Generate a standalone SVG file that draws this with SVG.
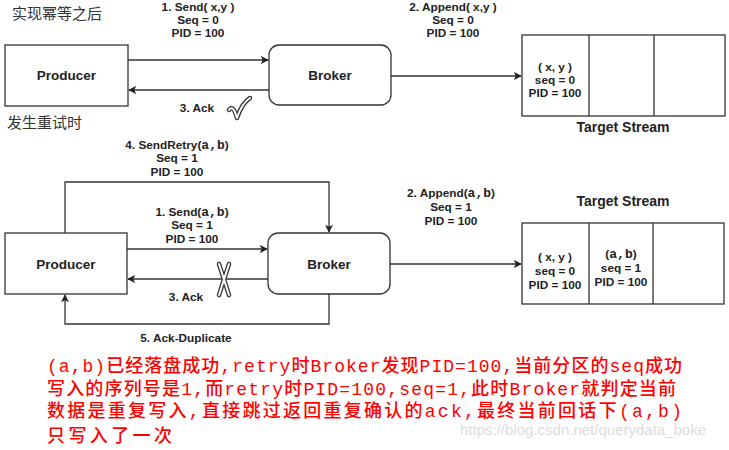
<svg xmlns="http://www.w3.org/2000/svg" width="729" height="450" viewBox="0 0 729 450">
<defs>
<marker id="ah" viewBox="0 0 10 10" refX="9" refY="5" markerWidth="8" markerHeight="8" markerUnits="userSpaceOnUse" orient="auto">
<path d="M0,0 L10,5 L0,10 L2.5,5 Z" fill="#222"/>
</marker>
<style>
.box{fill:#fff;stroke:#333;stroke-width:1.3}
.ln{fill:none;stroke:#333;stroke-width:1.3}
.arr{fill:none;stroke:#333;stroke-width:1.3;marker-end:url(#ah)}
.lbl{font-family:"Liberation Sans",Arial,sans-serif;font-size:11.8px;font-weight:bold;fill:#222;text-anchor:middle}
.node{font-family:"Liberation Sans",Arial,sans-serif;font-size:13.5px;font-weight:bold;fill:#222;text-anchor:middle}
.ts{font-family:"Liberation Sans",Arial,sans-serif;font-size:14px;font-weight:bold;fill:#222;text-anchor:middle}
.ab{font-family:"Liberation Mono","DejaVu Sans Mono",monospace;font-weight:bold;font-size:13px}
.cn{font-family:"Noto Sans CJK SC",sans-serif;font-size:15px;fill:#333}
.red{font-family:"Liberation Mono","Noto Sans CJK SC",monospace;font-size:18px;font-weight:500;fill:#ff0000}
.wm{font-family:"Liberation Sans",Arial,sans-serif;font-size:15px;fill:#dcdcdc}
.mk1{fill:none;stroke:#333;stroke-width:4.5;stroke-linecap:round;stroke-linejoin:round}
.mk2{fill:none;stroke:#fff;stroke-width:2;stroke-linecap:round;stroke-linejoin:round}
</style>
</defs>

<text class="cn" x="12" y="19">实现幂等之后</text>
<text class="cn" x="7" y="128">发生重试时</text>

<g id="connectors">
<line class="arr" x1="128" y1="60" x2="268" y2="60"/>
<line class="arr" x1="269" y1="90" x2="129" y2="90"/>
<line class="arr" x1="391" y1="76" x2="521" y2="76"/>
<polyline class="arr" points="65,233 65,182 329,182 329,232"/>
<line class="arr" x1="127" y1="249" x2="267" y2="249"/>
<line class="arr" x1="268" y1="279" x2="128" y2="279"/>
<polyline class="arr" points="329,294 329,324 65,324 65,295"/>
<line class="arr" x1="390" y1="264" x2="521" y2="264"/>
</g>

<g id="labels">
<text class="lbl" x="198" y="10.5">1. Send( x,y )</text>
<text class="lbl" x="198" y="23.5">Seq = 0</text>
<text class="lbl" x="198" y="37">PID = 100</text>
<text class="lbl" x="453" y="10.5">2. Append( x,y )</text>
<text class="lbl" x="453" y="23.5">Seq = 0</text>
<text class="lbl" x="453" y="37">PID = 100</text>
<text class="lbl" x="197" y="112">3. Ack</text>

<text class="lbl" x="177" y="149">4. SendRetry(<tspan class="ab">a,b</tspan>)</text>
<text class="lbl" x="177" y="162">Seq = 1</text>
<text class="lbl" x="177" y="176">PID = 100</text>
<text class="lbl" x="192" y="216">1. Send(<tspan class="ab">a,b</tspan>)</text>
<text class="lbl" x="192" y="229">Seq = 1</text>
<text class="lbl" x="192" y="243">PID = 100</text>
<text class="lbl" x="186" y="301">3. Ack</text>
<text class="lbl" x="186" y="342">5. Ack-Duplicate</text>
<text class="lbl" x="451" y="197">2. Append(<tspan class="ab">a,b</tspan>)</text>
<text class="lbl" x="451" y="211">Seq = 1</text>
<text class="lbl" x="451" y="225">PID = 100</text>
</g>

<g id="check">
<path class="mk1" d="M229,110 Q233,104 237,118 Q242,103 250,98"/>
<path class="mk2" d="M229,110 Q233,104 237,118 Q242,103 250,98"/>
</g>
<g id="cross">
<path class="mk1" d="M219,264 L229,295 M229,264 L219,295"/>
<path class="mk2" d="M219,264 L229,295 M229,264 L219,295"/>
</g>

<g id="producer-top">
<rect class="box" x="5" y="45" width="123" height="61"/>
<text class="node" x="66.5" y="80">Producer</text>
</g>
<g id="broker-top">
<rect class="box" x="269" y="45" width="122" height="60" rx="10"/>
<text class="node" x="330" y="80">Broker</text>
</g>
<g id="stream-top">
<rect class="box" x="522" y="35" width="203" height="81"/>
<line class="ln" x1="589" y1="35" x2="589" y2="116"/>
<line class="ln" x1="654" y1="35" x2="654" y2="116"/>
<text class="lbl" x="555" y="71">( x, y )</text>
<text class="lbl" x="555" y="84">seq = 0</text>
<text class="lbl" x="555" y="97">PID = 100</text>
<text class="ts" x="623" y="132">Target Stream</text>
</g>

<g id="producer-bottom">
<rect class="box" x="5" y="233" width="122" height="61"/>
<text class="node" x="66" y="269">Producer</text>
</g>
<g id="broker-bottom">
<rect class="box" x="268" y="233" width="122" height="61" rx="10"/>
<text class="node" x="329" y="269">Broker</text>
</g>
<g id="stream-bottom">
<text class="ts" x="623" y="206">Target Stream</text>
<rect class="box" x="522" y="223" width="202" height="81"/>
<line class="ln" x1="589" y1="223" x2="589" y2="304"/>
<line class="ln" x1="653" y1="223" x2="653" y2="304"/>
<text class="lbl" x="555" y="261">( x, y )</text>
<text class="lbl" x="555" y="275">seq = 0</text>
<text class="lbl" x="555" y="289">PID = 100</text>
<text class="lbl" x="621" y="258">(<tspan class="ab">a,b</tspan>)</text>
<text class="lbl" x="621" y="272">seq = 1</text>
<text class="lbl" x="621" y="286">PID = 100</text>
</g>

<g id="note">
<text class="red" x="47" y="372" textLength="635" lengthAdjust="spacing">(a,b)已经落盘成功,retry时Broker发现PID=100,当前分区的seq成功</text>
<text class="red" x="47" y="395" textLength="629" lengthAdjust="spacing">写入的序列号是1,而retry时PID=100,seq=1,此时Broker就判定当前</text>
<text class="red" x="47" y="417" textLength="635" lengthAdjust="spacing">数据是重复写入,直接跳过返回重复确认的ack,最终当前回话下(a,b)</text>
<text class="red" x="47" y="442" textLength="125" lengthAdjust="spacing">只写入了一次</text>
</g>
<text class="wm" x="460" y="435">https://blog.csdn.net/querydata_boke</text>
</svg>
